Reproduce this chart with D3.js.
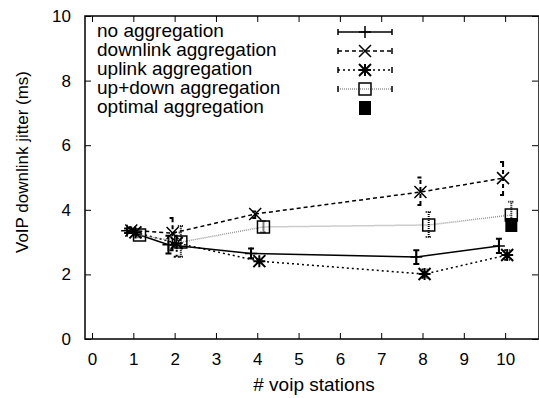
<!DOCTYPE html>
<html>
<head>
<meta charset="utf-8">
<script src="https://cdn.jsdelivr.net/npm/d3@7"></script>
<style>
  body { margin: 0; background: #fff; }
  text { font-family: "Liberation Sans", Arial, sans-serif; fill: #000; }
</style>
</head>
<body>
<div id="chart"></div>
<script>
// chart data
const stations = [1, 2, 4, 8, 10];
const xTicks = [0, 1, 2, 3, 4, 5, 6, 7, 8, 9, 10];
const yTicks = [0, 2, 4, 6, 8, 10];

const noAgg   = [3.35, 2.92, 2.65, 2.54, 2.88];
const noAggLo = [3.28, 2.65, 2.50, 2.32, 2.66];
const noAggHi = [3.42, 3.20, 2.80, 2.75, 3.10];

const downAgg   = [3.36, 3.28, 3.87, 4.55, 4.98];
const downAggLo = [3.28, 2.75, 3.75, 4.15, 4.46];
const downAggHi = [3.45, 3.75, 3.95, 5.00, 5.48];

const upAgg   = [3.30, 2.97, 2.41, 2.01, 2.60];
const upAggLo = [3.22, 2.55, 2.35, 1.90, 2.45];
const upAggHi = [3.38, 3.30, 2.48, 2.15, 2.75];

const updownAgg   = [3.22, 3.00, 3.47, 3.53, 3.84];
const updownAggLo = [3.15, 2.55, 3.30, 3.16, 3.55];
const updownAggHi = [3.30, 3.50, 3.65, 3.93, 4.25];

const optimalX = [10];
const optimalAgg = [3.53];

const seriesNames = ["no aggregation", "downlink aggregation", "uplink aggregation",
                     "up+down aggregation", "optimal aggregation"];

// layout
const width = 539, height = 398;
const margin = { left: 85, right: 0, top: 16, bottom: 59 };

const svg = d3.select("#chart").append("svg")
    .attr("width", width)
    .attr("height", height);

const x = d3.scaleLinear().domain([-0.17, 10.82]).range([margin.left, width - margin.right]);
const y = d3.scaleLinear().domain([0, 10]).range([height - margin.bottom, margin.top]);

// series definitions (style per series)
const series = [
  { vals: noAgg, lo: noAggLo, hi: noAggHi, dx: -0.15, marker: "plus",
    color: "#000", dash: null, width: 1.5 },
  { vals: downAgg, lo: downAggLo, hi: downAggHi, dx: -0.05, marker: "cross",
    color: "#000", dash: "4,3", width: 1.5 },
  { vals: upAgg, lo: upAggLo, hi: upAggHi, dx: 0.05, marker: "star",
    color: "#000", dash: "2,3", width: 1.5 },
  { vals: updownAgg, lo: updownAggLo, hi: updownAggHi, dx: 0.15, marker: "box",
    color: "#999", dash: "1,1", width: 1.5 }
];

// frame
svg.append("rect")
    .attr("x", x.range()[0]).attr("y", y.range()[1])
    .attr("width", x.range()[1] - x.range()[0])
    .attr("height", y.range()[0] - y.range()[1])
    .attr("fill", "none").attr("stroke", "#000").attr("stroke-width", 1.5);

// axes (ticks inward, mirrored on top/right)
const tickLen = 6;
svg.append("g")
    .attr("transform", `translate(0,${y.range()[0]})`)
    .call(d3.axisBottom(x).tickValues(xTicks).tickSize(-tickLen).tickPadding(14))
    .call(g => g.select(".domain").remove());
svg.append("g")
    .attr("transform", `translate(0,${y.range()[1]})`)
    .call(d3.axisTop(x).tickValues(xTicks).tickSize(-tickLen).tickFormat(""))
    .call(g => g.select(".domain").remove());
svg.append("g")
    .attr("transform", `translate(${x.range()[0]},0)`)
    .call(d3.axisLeft(y).tickValues(yTicks).tickSize(-tickLen).tickPadding(14))
    .call(g => g.select(".domain").remove());
svg.append("g")
    .attr("transform", `translate(${x.range()[1] - 1},0)`)
    .call(d3.axisRight(y).tickValues(yTicks).tickSize(-tickLen).tickFormat(""))
    .call(g => g.select(".domain").remove());
svg.selectAll(".tick line").attr("stroke", "#000").attr("stroke-width", 1);
svg.selectAll(".tick text").style("font-size", "17px")
    .style("font-family", "'Liberation Sans', Arial, sans-serif");

// axis titles
svg.append("text")
    .attr("x", 314).attr("y", 391)
    .attr("text-anchor", "middle")
    .style("font-size", "19px")
    .text("# voip stations");
svg.append("text")
    .attr("transform", "translate(28,162) rotate(-90)")
    .attr("text-anchor", "middle")
    .style("font-size", "17px")
    .text("VoIP downlink jitter (ms)");

// marker drawing
function drawMarker(g, type, cx, cy, color) {
  const s = 6;
  const p = g.append("path")
      .attr("fill", "none").attr("stroke", color).attr("stroke-width", 1.5);
  if (type === "plus") {
    p.attr("d", `M${cx - s},${cy}H${cx + s}M${cx},${cy - s}V${cy + s}`);
  } else if (type === "cross") {
    p.attr("d", `M${cx - s},${cy - s}L${cx + s},${cy + s}M${cx - s},${cy + s}L${cx + s},${cy - s}`);
  } else if (type === "star") {
    p.attr("d", `M${cx - s},${cy}H${cx + s}M${cx},${cy - s}V${cy + s}` +
                `M${cx - s},${cy - s}L${cx + s},${cy + s}M${cx - s},${cy + s}L${cx + s},${cy - s}`)
     .attr("stroke-width", 2);
  } else if (type === "box") {
    p.attr("d", `M${cx - s},${cy - s}H${cx + s}V${cy + s}H${cx - s}Z`)
     .attr("stroke", "#000");
  } else if (type === "filled") {
    g.append("rect")
      .attr("x", cx - s).attr("y", cy - 7).attr("width", 2 * s).attr("height", 14)
      .attr("fill", "#000");
    p.remove();
  }
}

const plot = svg.append("g");
const line = d3.line().x(d => x(d[0])).y(d => y(d[1]));

series.forEach(s => {
  const pts = stations.map((st, i) => [st + s.dx, s.vals[i]]);
  plot.append("path")
      .attr("d", line(pts))
      .attr("fill", "none")
      .attr("stroke", s.color)
      .attr("stroke-width", s.width)
      .attr("stroke-dasharray", s.dash);
  // error bars
  stations.forEach((st, i) => {
    const ex = x(st + s.dx), c = 3;
    plot.append("path")
        .attr("d", `M${ex},${y(s.lo[i])}V${y(s.hi[i])}` +
                   `M${ex - c},${y(s.lo[i])}H${ex + c}M${ex - c},${y(s.hi[i])}H${ex + c}`)
        .attr("fill", "none")
        .attr("stroke", "#000")
        .attr("stroke-width", 2)
        .attr("stroke-dasharray", s.dash);
    drawMarker(plot, s.marker, ex, y(s.vals[i]), "#000");
  });
});

// optimal points
optimalX.forEach((st, i) => {
  drawMarker(plot, "filled", x(st + 0.15), y(optimalAgg[i]), "#000");
});

// legend
const legend = svg.append("g");
const legendStyles = series.concat([{ marker: "filled", dash: null, color: "#000", none: true }]);
seriesNames.forEach((name, i) => {
  const ly = 32 + i * 19;
  legend.append("text")
      .attr("x", 97).attr("y", ly + 5)
      .style("font-size", "19px")
      .text(name);
  const st = legendStyles[i];
  if (!st.none) {
    legend.append("path")
        .attr("d", `M338,${ly}H392`)
        .attr("stroke", st.color)
        .attr("stroke-width", 1.5)
        .attr("stroke-dasharray", st.dash);
    legend.append("path")
        .attr("d", `M338,${ly - 3}V${ly + 3}M392,${ly - 3}V${ly + 3}`)
        .attr("stroke", "#000")
        .attr("stroke-width", 1.5);
  }
  drawMarker(legend, st.marker, 365, ly, "#000");
});
</script>
</body>
</html>
